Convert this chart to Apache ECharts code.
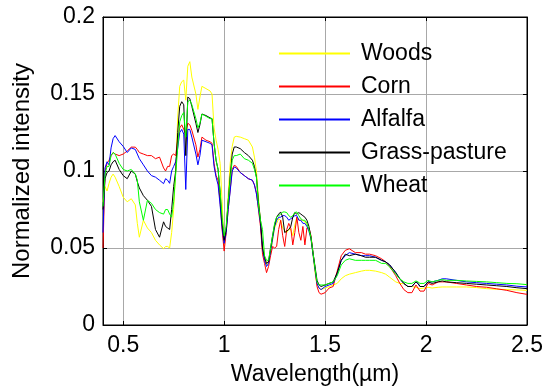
<!DOCTYPE html>
<html>
<head>
<meta charset="utf-8">
<title>Spectra</title>
<script src="https://cdn.jsdelivr.net/npm/echarts@6/dist/echarts.min.js"></script>
<style>
  html, body { margin: 0; padding: 0; background: #fff; }
  #chart { width: 545px; height: 389px; }
</style>
</head>
<body>
<div id="chart"></div>
<script>
// wavelength (um)
var wavelengths = [
  0.40, 0.41, 0.42, 0.43, 0.44, 0.45, 0.46, 0.48, 0.50, 0.52, 0.54, 0.56, 0.57, 0.58, 0.60, 0.62, 0.64, 0.66, 0.68, 0.70, 0.71,
  0.72, 0.73, 0.74, 0.75, 0.76, 0.77, 0.78, 0.79, 0.80, 0.81, 0.82, 0.83, 0.84, 0.86, 0.87, 0.88, 0.89, 0.91, 0.93, 0.94, 0.95, 0.96, 0.97, 0.98, 0.99, 1.00, 1.01, 1.02, 1.03,
  1.04, 1.05, 1.06, 1.08, 1.10, 1.12, 1.14, 1.15, 1.16, 1.17, 1.18, 1.19, 1.20, 1.21, 1.22, 1.23, 1.24, 1.25, 1.26, 1.27, 1.28, 1.29, 1.30, 1.31, 1.32, 1.33, 1.34, 1.35, 1.36, 1.37,
  1.38, 1.39, 1.40, 1.41, 1.42, 1.43, 1.44, 1.45, 1.46, 1.47, 1.48, 1.50, 1.52, 1.54, 1.56, 1.58, 1.60, 1.62, 1.65, 1.68, 1.70, 1.72, 1.75, 1.78,
  1.80, 1.82, 1.85, 1.87, 1.89, 1.91, 1.93, 1.95, 1.96, 1.97, 1.99, 2.01, 2.03, 2.06, 2.08, 2.10, 2.15, 2.20, 2.25, 2.30, 2.35, 2.40, 2.45, 2.50
];

var woods = [
  0.080, 0.090, 0.087, 0.092, 0.096, 0.098, 0.096, 0.090, 0.083, 0.080, 0.082, 0.078, 0.066, 0.057, 0.068, 0.063, 0.060, 0.055, 0.052, 0.0495, 0.051,
  0.051, 0.050, 0.060, 0.075, 0.100, 0.135, 0.155, 0.158, 0.159, 0.146, 0.168, 0.171, 0.161, 0.150, 0.140, 0.148, 0.155, 0.1535, 0.152, 0.150, 0.128, 0.120, 0.114, 0.105, 0.080, 0.052, 0.060, 0.085, 0.105,
  0.116, 0.122, 0.1225, 0.122, 0.121, 0.120, 0.1156, 0.109, 0.100, 0.083, 0.066, 0.052, 0.044, 0.039, 0.042, 0.046, 0.055, 0.063, 0.066, 0.069, 0.068, 0.063, 0.0614, 0.060, 0.062, 0.062, 0.058, 0.065, 0.070, 0.069,
  0.068, 0.068, 0.067, 0.065, 0.061, 0.056, 0.046, 0.034, 0.026, 0.024, 0.023, 0.024, 0.025, 0.026, 0.027, 0.030, 0.032, 0.033, 0.034, 0.035, 0.0355, 0.0355, 0.035, 0.034,
  0.033, 0.031, 0.028, 0.027, 0.0268, 0.025, 0.025, 0.0245, 0.024, 0.0236, 0.024, 0.0245, 0.024, 0.0245, 0.0247, 0.0247, 0.0247, 0.0247, 0.0243, 0.0236, 0.0232, 0.023, 0.0228, 0.0225
];

var corn = [
  0.050, 0.100, 0.105, 0.107, 0.110, 0.112, 0.111, 0.110, 0.111, 0.113, 0.1155, 0.1155, 0.114, 0.112, 0.111, 0.110, 0.110, 0.108, 0.109, 0.102, 0.100,
  0.103, 0.103, 0.110, 0.111, 0.110, 0.120, 0.128, 0.130, 0.127, 0.124, 0.131, 0.130, 0.1264, 0.117, 0.109, 0.114, 0.122, 0.120, 0.119, 0.118, 0.105, 0.097, 0.094, 0.080, 0.062, 0.048, 0.060, 0.075, 0.088,
  0.101, 0.1037, 0.103, 0.099, 0.097, 0.095, 0.094, 0.091, 0.086, 0.075, 0.064, 0.046, 0.040, 0.034, 0.038, 0.045, 0.051, 0.050, 0.051, 0.062, 0.068, 0.058, 0.051, 0.062, 0.066, 0.063, 0.052, 0.060, 0.070, 0.060,
  0.055, 0.064, 0.052, 0.063, 0.063, 0.058, 0.047, 0.037, 0.025, 0.021, 0.020, 0.021, 0.024, 0.025, 0.035, 0.045, 0.0485, 0.0495, 0.047, 0.047, 0.046, 0.046, 0.045, 0.043,
  0.041, 0.038, 0.032, 0.027, 0.023, 0.021, 0.021, 0.026, 0.024, 0.022, 0.022, 0.027, 0.026, 0.028, 0.028, 0.028, 0.027, 0.026, 0.025, 0.0245, 0.0235, 0.0225, 0.021, 0.0199
];

var alfalfa = [
  0.060, 0.102, 0.106, 0.104, 0.115, 0.121, 0.123, 0.119, 0.116, 0.112, 0.115, 0.114, 0.111, 0.108, 0.104, 0.100, 0.097, 0.096, 0.094, 0.0918, 0.095,
  0.094, 0.092, 0.100, 0.103, 0.106, 0.115, 0.125, 0.127, 0.124, 0.088, 0.127, 0.127, 0.122, 0.111, 0.104, 0.110, 0.120, 0.119, 0.118, 0.117, 0.103, 0.096, 0.091, 0.078, 0.063, 0.053, 0.060, 0.075, 0.087,
  0.100, 0.1026, 0.102, 0.099, 0.097, 0.095, 0.094, 0.091, 0.085, 0.076, 0.066, 0.050, 0.042, 0.038, 0.040, 0.048, 0.056, 0.064, 0.068, 0.070, 0.070, 0.071, 0.071, 0.070, 0.068, 0.069, 0.070, 0.071, 0.071, 0.068,
  0.068, 0.066, 0.066, 0.064, 0.061, 0.056, 0.046, 0.036, 0.027, 0.024, 0.023, 0.025, 0.026, 0.027, 0.033, 0.042, 0.045, 0.047, 0.046, 0.045, 0.045, 0.045, 0.044, 0.042,
  0.041, 0.039, 0.034, 0.030, 0.027, 0.025, 0.025, 0.028, 0.027, 0.025, 0.025, 0.028, 0.028, 0.029, 0.030, 0.030, 0.029, 0.028, 0.0275, 0.027, 0.0265, 0.026, 0.0252, 0.0247
];

var grassPasture = [
  0.075, 0.095, 0.099, 0.100, 0.104, 0.106, 0.107, 0.101, 0.097, 0.095, 0.100, 0.098, 0.093, 0.089, 0.084, 0.081, 0.077, 0.062, 0.057, 0.067, 0.064,
  0.063, 0.062, 0.075, 0.090, 0.100, 0.125, 0.142, 0.145, 0.143, 0.110, 0.148, 0.147, 0.142, 0.131, 0.125, 0.130, 0.137, 0.136, 0.1345, 0.134, 0.118, 0.107, 0.101, 0.086, 0.066, 0.055, 0.062, 0.080, 0.097,
  0.111, 0.1156, 0.1156, 0.1145, 0.112, 0.110, 0.107, 0.103, 0.096, 0.080, 0.068, 0.050, 0.044, 0.040, 0.041, 0.050, 0.058, 0.065, 0.070, 0.072, 0.0734, 0.070, 0.060, 0.061, 0.062, 0.064, 0.070, 0.073, 0.072, 0.073,
  0.072, 0.071, 0.070, 0.068, 0.064, 0.057, 0.047, 0.038, 0.029, 0.026, 0.025, 0.026, 0.027, 0.028, 0.034, 0.042, 0.046, 0.045, 0.046, 0.045, 0.044, 0.044, 0.044, 0.042,
  0.041, 0.039, 0.034, 0.030, 0.027, 0.025, 0.025, 0.028, 0.027, 0.025, 0.025, 0.028, 0.027, 0.028, 0.0286, 0.028, 0.0275, 0.027, 0.0265, 0.026, 0.0255, 0.025, 0.0242, 0.0236
];

var wheat = [
  0.077, 0.098, 0.103, 0.103, 0.110, 0.112, 0.111, 0.105, 0.101, 0.100, 0.101, 0.098, 0.094, 0.080, 0.068, 0.081, 0.079, 0.075, 0.073, 0.072, 0.075,
  0.075, 0.072, 0.070, 0.080, 0.098, 0.115, 0.132, 0.136, 0.138, 0.122, 0.145, 0.146, 0.143, 0.134, 0.128, 0.131, 0.137, 0.1355, 0.134, 0.134, 0.118, 0.107, 0.101, 0.087, 0.070, 0.058, 0.064, 0.080, 0.095,
  0.107, 0.110, 0.110, 0.111, 0.108, 0.107, 0.105, 0.101, 0.096, 0.078, 0.068, 0.062, 0.045, 0.042, 0.042, 0.050, 0.058, 0.066, 0.070, 0.071, 0.072, 0.0734, 0.0734, 0.073, 0.071, 0.070, 0.071, 0.073, 0.0734, 0.071,
  0.069, 0.068, 0.068, 0.066, 0.062, 0.057, 0.047, 0.037, 0.028, 0.026, 0.026, 0.026, 0.027, 0.028, 0.032, 0.039, 0.042, 0.043, 0.042, 0.042, 0.042, 0.042, 0.042, 0.040,
  0.040, 0.0377, 0.033, 0.030, 0.028, 0.027, 0.027, 0.0286, 0.028, 0.027, 0.027, 0.029, 0.028, 0.029, 0.0295, 0.029, 0.029, 0.0286, 0.0283, 0.028, 0.0275, 0.027, 0.0268, 0.0262
];

var seriesNames = ["Woods", "Corn", "Alfalfa", "Grass-pasture", "Wheat"];
var seriesColors = ["#ffff00", "#ff0000", "#0000ff", "#000000", "#00ff00"];
var seriesValues = [woods, corn, alfalfa, grassPasture, wheat];

var font = "Liberation Sans, Arial, sans-serif";

function pairs(vals) {
  return wavelengths.map(function (w, i) { return [w, vals[i]]; });
}

var chart = echarts.init(document.getElementById("chart"));

var series = seriesNames.map(function (name, k) {
  return {
    name: name,
    type: "line",
    data: pairs(seriesValues[k]),
    symbol: "none",
    showSymbol: false,
    lineStyle: { color: seriesColors[k], width: 1 },
    itemStyle: { color: seriesColors[k] },
    emphasis: { disabled: true },
  };
});

// legend entries drawn as thin coloured bars
var legendItems = seriesNames.map(function (name, k) {
  return {
    name: name,
    icon: "rect",
    itemStyle: { color: seriesColors[k], borderWidth: 0, opacity: 1 },
  };
});

chart.setOption({
  animation: false,
  backgroundColor: "#fff",
  grid: {
    left: 103,
    right: 18,
    top: 17,
    bottom: 64,
    containLabel: false,
    outerBoundsMode: "none",
    show: true,
    borderColor: "#000",
    borderWidth: 1,
  },
  legend: {
    orient: "vertical",
    left: 274,
    top: 37,
    itemWidth: 71,
    itemHeight: 2,
    itemGap: 10,
    data: legendItems,
    textStyle: {
      color: "#000",
      fontSize: 23,
      fontFamily: font,
      padding: [0, 0, 0, 6],
    },
  },
  xAxis: [
    {
      type: "value",
      min: 0.4,
      max: 2.5,
      name: "Wavelength(µm)",
      nameLocation: "middle",
      nameGap: 38,
      nameTextStyle: { color: "#000", fontSize: 23, fontFamily: font },
      axisLine: { show: true, onZero: false, lineStyle: { color: "#000", width: 1 } },
      axisTick: { show: true, inside: true, length: 4, lineStyle: { color: "#000" } },
      axisLabel: { showMinLabel: false, color: "#000", fontSize: 23, fontFamily: font, margin: 9 },
      splitLine: { show: true, lineStyle: { color: "#a8a8a8", width: 1 } },
    },
    {
      type: "value",
      position: "top",
      min: 0.4,
      max: 2.5,
      axisLine: { show: true, onZero: false, lineStyle: { color: "#000", width: 1 } },
      axisTick: { show: true, inside: true, length: 4, lineStyle: { color: "#000" } },
      axisLabel: { show: false },
      splitLine: { show: false },
    },
  ],
  yAxis: [
    {
      type: "value",
      min: 0,
      max: 0.2,
      interval: 0.05,
      name: "Normalized intensity",
      nameLocation: "middle",
      nameGap: 69,
      nameTextStyle: { color: "#000", fontSize: 24, fontFamily: font },
      axisLine: { show: true, onZero: false, lineStyle: { color: "#000", width: 1 } },
      axisTick: { show: true, inside: true, length: 4, lineStyle: { color: "#000" } },
      axisLabel: { color: "#000", fontSize: 23, fontFamily: font, margin: 8 },
      splitLine: { show: true, lineStyle: { color: "#a8a8a8", width: 1 } },
    },
    {
      type: "value",
      position: "right",
      min: 0,
      max: 0.2,
      interval: 0.05,
      axisLine: { show: true, onZero: false, lineStyle: { color: "#000", width: 1 } },
      axisTick: { show: true, inside: true, length: 4, lineStyle: { color: "#000" } },
      axisLabel: { show: false },
      splitLine: { show: false },
    },
  ],
  series: series,
});
</script>
</body>
</html>
